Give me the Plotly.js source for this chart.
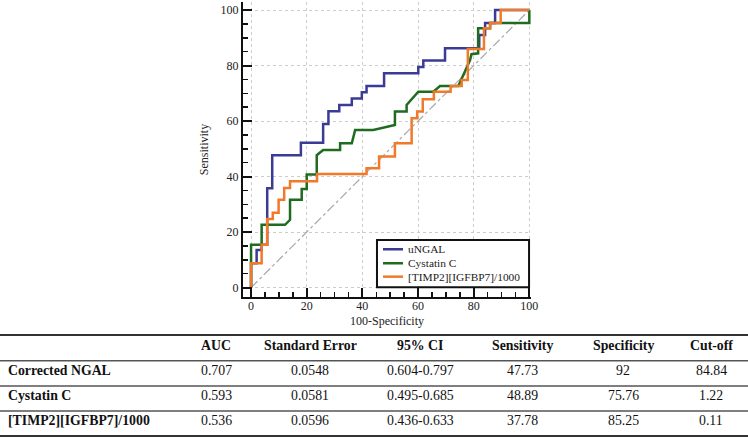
<!DOCTYPE html>
<html>
<head>
<meta charset="utf-8">
<script src="https://cdn.plot.ly/plotly-3.0.1.min.js"></script>
<style>html,body{margin:0;padding:0;background:#fff;}#chart{width:748px;height:438px;}</style>
</head>
<body>
<div id="chart"></div>
<script>
// ---- ROC curve data (100-Specificity, Sensitivity) ----
const seriesNames = ['uNGAL', 'Cystatin C', '[TIMP2][IGFBP7]/1000'];
const seriesColors = ['#3b3b96', '#1f6b1f', '#f07a2a'];

const fprNGAL = [0,0,2,2,3.8,3.8,5.8,5.8,7.6,7.6,17.9,17.9,25.9,25.9,27.8,27.8,31.7,31.7,36.2,36.2,39.8,39.8,41.5,41.5,47.8,47.8,60.1,60.1,61.9,61.9,69.7,69.7,82,82,84.1,84.1,87.7,87.7,100];
const tprNGAL = [0,8.8,8.8,13.5,13.5,15.4,15.4,35.8,35.8,47.7,47.7,52.2,52.2,58.9,58.9,63.5,63.5,65.8,65.8,68.1,68.1,70.4,70.4,72.6,72.6,77.2,77.2,79.5,79.5,81.8,81.8,86.2,86.2,91,91,95.3,95.3,100,100];

const fprCys = [0,0,3.8,3.8,12.2,14,14,18.2,18.2,20,20,23.6,23.6,25.9,32,32,36.2,37.4,43.9,51.7,51.7,55.9,55.9,60.1,65.5,67.9,74.5,77.5,78.7,79.2,81.6,81.6,85.9,85.9,100,100];
const tprCys = [0,15.4,15.4,22.6,22.6,24.4,31.6,31.6,35.5,35.5,40.7,40.7,47.7,49.6,49.6,52,52,56.8,56.8,58.6,63.4,63.4,65.8,70.6,70.6,72.6,72.6,78.9,82,84.1,84.4,93.4,93.4,95.3,95.3,100];

const fprTimp = [0,0,3.8,3.8,5.8,5.8,7.8,7.8,9.9,9.9,11.9,11.9,14,14,23.7,23.7,41.5,41.5,46,46,51.7,51.7,57.7,57.7,59.7,59.7,61.7,61.7,65.7,65.7,71.7,71.7,75.7,75.7,77.9,77.9,83.7,83.7,85.9,85.9,89.7,89.7,100];
const tprTimp = [0,8.8,8.8,15.4,15.4,24.7,24.7,27,27,31.6,31.6,35.9,35.9,38.3,38.3,40.9,40.9,43,43,47.2,47.2,52,52,61,61,63.4,63.4,67.9,67.9,70.6,70.6,72.6,72.6,74.8,74.8,86,86,93.4,93.4,95.3,95.3,100,100];

const diagX = [0, 100];
const diagY = [0, 100];

const axisTicks = [0, 20, 40, 60, 80, 100];

// ---- Table data ----
const tableHeaders = ['', 'AUC', 'Standard Error', '95% CI', 'Sensitivity', 'Specificity', 'Cut-off'];
const rowLabels = ['Corrected NGAL', 'Cystatin C', '[TIMP2][IGFBP7]/1000'];
const aucVals = ['0.707', '0.593', '0.536'];
const seVals = ['0.0548', '0.0581', '0.0596'];
const ciVals = ['0.604-0.797', '0.495-0.685', '0.436-0.633'];
const sensVals = ['47.73', '48.89', '37.78'];
const specVals = ['92', '75.76', '85.25'];
const cutoffVals = ['84.84', '1.22', '0.11'];

// ---- layout geometry ----
const L = 243, T = 2, W = 288, H = 295, FW = 748, FH = 438;
const px = v => (v - L) / W;
const py = v => (T + H - v) / H;
const serif = '"Liberation Serif", serif';

const traces = [
  {x: diagX, y: diagY, mode: 'lines', line: {color: '#a8a8a8', width: 1.2, dash: 'dashdot'}, hoverinfo: 'skip', showlegend: false},
  {x: fprNGAL, y: tprNGAL, name: seriesNames[0], mode: 'lines', line: {color: seriesColors[0], width: 2.5}, showlegend: false},
  {x: fprCys, y: tprCys, name: seriesNames[1], mode: 'lines', line: {color: seriesColors[1], width: 2.5}, showlegend: false},
  {x: fprTimp, y: tprTimp, name: seriesNames[2], mode: 'lines', line: {color: seriesColors[2], width: 2.5}, showlegend: false}
];

const shapes = [];
const annotations = [];

// manual legend (inside plot)
shapes.push({type: 'rect', xref: 'x', yref: 'y', x0: 45.25, x1: 99.9, y0: 0.1, y1: 17.15,
  line: {color: '#111', width: 2}, fillcolor: '#fff', layer: 'above'});
const legY = [13.8, 8.76, 3.93];
seriesNames.forEach((n, i) => {
  shapes.push({type: 'line', xref: 'x', yref: 'y', x0: 47.4, x1: 54.6, y0: legY[i], y1: legY[i],
    line: {color: seriesColors[i], width: 2.5}, layer: 'above'});
  annotations.push({xref: 'x', yref: 'y', x: 55.6, y: legY[i], text: n, showarrow: false,
    xanchor: 'left', yanchor: 'middle', font: {family: serif, size: 11.4, color: '#222'}});
});

// table rules
const ruleY = [335, 360.7, 386, 411, 436];
ruleY.forEach((r, i) => {
  const outer = (i === 0 || i === ruleY.length - 1);
  shapes.push({type: 'line', xref: 'paper', yref: 'paper', x0: px(0), x1: px(FW), y0: py(r), y1: py(r),
    line: {color: outer ? '#333' : '#555', width: outer ? 2 : 1.6}});
});

// table text
const colX = [6, 216, 310, 420, 522, 623, 711];
const rowTextY = [345.5, 370.5, 395.5, 420.5];
const tFont = (bold) => ({family: serif, size: 13.8, color: '#111', weight: bold ? 'bold' : 'normal'});
tableHeaders.forEach((h, c) => {
  if (!h) return;
  annotations.push({xref: 'paper', yref: 'paper', x: px(colX[c]), y: py(rowTextY[0]), text: '<b>' + h + '</b>',
    showarrow: false, xanchor: 'center', yanchor: 'middle', font: tFont(true)});
});
const cols = [aucVals, seVals, ciVals, sensVals, specVals, cutoffVals];
rowLabels.forEach((lab, r) => {
  annotations.push({xref: 'paper', yref: 'paper', x: px(colX[0]), y: py(rowTextY[r + 1]), text: '<b>' + lab + '</b>',
    showarrow: false, xanchor: 'left', yanchor: 'middle', font: tFont(true)});
  cols.forEach((arr, c) => {
    annotations.push({xref: 'paper', yref: 'paper', x: px(colX[c + 1]), y: py(rowTextY[r + 1]), text: arr[r],
      showarrow: false, xanchor: 'center', yanchor: 'middle', font: tFont(false)});
  });
});

const axisCommon = {
  tickvals: axisTicks, ticktext: axisTicks.map(String),
  ticks: 'inside', ticklen: 9, tickwidth: 2, tickcolor: '#111',
  showline: true, linecolor: '#111', linewidth: 2,
  showgrid: true, gridcolor: '#cccccc', gridwidth: 1, griddash: 'dot',
  zeroline: false,
  tickfont: {family: serif, size: 12, color: '#222'},
  minor: {dtick: 5, ticks: 'inside', ticklen: 5, tickwidth: 1.5, tickcolor: '#111', showgrid: false},
  fixedrange: true
};

const layout = {
  width: FW, height: FH,
  margin: {l: L, r: FW - L - W, t: T, b: FH - T - H, pad: 0},
  paper_bgcolor: '#fff', plot_bgcolor: '#fff',
  showlegend: false,
  xaxis: Object.assign({}, axisCommon, {range: [-2.9, 100.6], ticklabelstandoff: -3,
    title: {text: '100-Specificity', font: {family: serif, size: 12, color: '#222'}, standoff: 4}}),
  yaxis: Object.assign({}, axisCommon, {range: [-3.4, 102.9],
    title: {text: 'Sensitivity', font: {family: serif, size: 12, color: '#222'}, standoff: 9}}),
  shapes: shapes,
  annotations: annotations
};

Plotly.newPlot('chart', traces, layout, {displayModeBar: false, staticPlot: true});
</script>
</body>
</html>
